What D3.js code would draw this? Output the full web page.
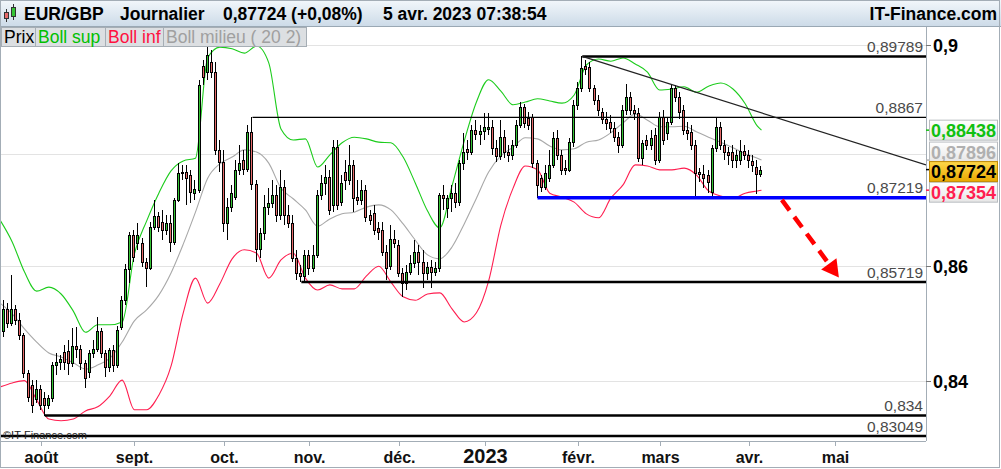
<!DOCTYPE html>
<html><head><meta charset="utf-8">
<script src="https://cdnjs.cloudflare.com/ajax/libs/d3/7.8.5/d3.min.js"></script>
<style>
html,body{margin:0;padding:0;background:#fff;}
svg{display:block;font-family:"Liberation Sans",Arial,sans-serif;}
</style></head><body>
<svg id="c" width="1001" height="469"></svg>
<script>
// ---------------- DATA ----------------
const firstIndex = -9; // trading-day index of first candle (Aug 1 2022 = 0)
const open = [
0.8486,0.8525,0.8500,0.8525,0.8505,0.8479,0.8413,0.8393,0.8368,0.8386,
0.8370,0.8358,0.8370,0.8427,0.8432,0.8450,0.8451,0.8431,0.8460,0.8455,
0.8431,0.8415,0.8448,0.8455,0.8486,0.8448,0.8424,0.8453,0.8427,0.8493,
0.8540,0.8595,0.8655,0.8641,0.8641,0.8607,0.8597,0.8670,0.8689,0.8679,
0.8664,0.8677,0.8643,0.8718,0.8766,0.8768,0.8763,0.8730,0.8736,0.8961,
0.8950,0.8969,0.8950,0.8808,0.8786,0.8677,0.8705,0.8723,0.8772,0.8790,
0.8774,0.8841,0.8747,0.8630,0.8659,0.8705,0.8712,0.8727,0.8691,0.8741,
0.8691,0.8677,0.8615,0.8588,0.8583,0.8620,0.8597,0.8620,0.8727,0.8748,
0.8759,0.8709,0.8813,0.8714,0.8768,0.8754,0.8781,0.8723,0.8718,0.8736,
0.8691,0.8695,0.8668,0.8664,0.8625,0.8600,0.8648,0.8638,0.8588,0.8570,
0.8590,0.8606,0.8625,0.8607,0.8588,0.8599,0.8590,0.8597,0.8727,0.8704,
0.8721,0.8730,0.8714,0.8784,0.8810,0.8804,0.8844,0.8837,0.8842,0.8846,
0.8850,0.8812,0.8797,0.8831,0.8804,0.8799,0.8817,0.8853,0.8886,0.8866,
0.8868,0.8784,0.8757,0.8741,0.8757,0.8781,0.8830,0.8799,0.8775,0.8772,
0.8822,0.8890,0.8921,0.8961,0.8959,0.8921,0.8899,0.8877,0.8864,0.8859,
0.8848,0.8831,0.8817,0.8881,0.8904,0.8881,0.8875,0.8793,0.8826,0.8817,
0.8835,0.8790,0.8868,0.8839,0.8859,0.8921,0.8904,0.8881,0.8844,0.8841,
0.8817,0.8768,0.8764,0.8763,0.8732,0.8812,0.8850,0.8817,0.8804,0.8804,
0.8790,0.8790,0.8806,0.8799,0.8788,0.8777,0.8765];
const high = [
0.8540,0.8535,0.8585,0.8532,0.8518,0.8483,0.8419,0.8401,0.8401,0.8393,
0.8381,0.8375,0.8432,0.8448,0.8444,0.8462,0.8470,0.8492,0.8493,0.8462,
0.8436,0.8453,0.8470,0.8511,0.8492,0.8453,0.8457,0.8462,0.8495,0.8548,
0.8604,0.8661,0.8664,0.8677,0.8650,0.8615,0.8679,0.8718,0.8696,0.8700,
0.8691,0.8691,0.8721,0.8784,0.8781,0.8781,0.8772,0.8754,0.8936,0.8972,
0.8996,0.8991,0.8969,0.8826,0.8808,0.8721,0.8745,0.8790,0.8817,0.8808,
0.8853,0.8867,0.8754,0.8668,0.8727,0.8739,0.8754,0.8745,0.8772,0.8754,
0.8709,0.8691,0.8629,0.8602,0.8629,0.8629,0.8638,0.8736,0.8763,0.8781,
0.8772,0.8826,0.8826,0.8763,0.8790,0.8817,0.8790,0.8754,0.8754,0.8745,
0.8700,0.8709,0.8679,0.8679,0.8638,0.8673,0.8664,0.8646,0.8597,0.8602,
0.8620,0.8646,0.8638,0.8629,0.8607,0.8611,0.8607,0.8730,0.8745,0.8727,
0.8745,0.8748,0.8790,0.8839,0.8826,0.8853,0.8862,0.8853,0.8875,0.8875,
0.8862,0.8826,0.8862,0.8844,0.8817,0.8826,0.8862,0.8895,0.8892,0.8877,
0.8873,0.8790,0.8763,0.8781,0.8808,0.8841,0.8844,0.8808,0.8790,0.8830,
0.8899,0.8932,0.89789,0.8972,0.8969,0.8926,0.8908,0.8884,0.8877,0.8871,
0.8859,0.8841,0.8890,0.8928,0.8914,0.8890,0.8884,0.8826,0.8835,0.8844,
0.8848,0.8877,0.8881,0.8866,0.8928,0.8926,0.8914,0.8890,0.8859,0.8853,
0.8826,0.8775,0.8781,0.8772,0.8817,0.8867,0.8859,0.8826,0.8813,0.8817,
0.8808,0.8826,0.8817,0.8808,0.8799,0.8790,0.8779];
const low = [
0.8476,0.8492,0.8495,0.8497,0.8471,0.8405,0.8363,0.8344,0.8362,0.8350,
0.8340,0.8352,0.8363,0.8410,0.8418,0.8418,0.8410,0.8424,0.8439,0.8418,
0.8387,0.8405,0.8439,0.8450,0.8439,0.8406,0.8415,0.8415,0.8422,0.8488,
0.8532,0.8570,0.8607,0.8629,0.8599,0.8563,0.8593,0.8664,0.8661,0.8646,
0.8655,0.8625,0.8638,0.8714,0.8754,0.8709,0.8712,0.8718,0.8730,0.8926,
0.8936,0.8939,0.8799,0.8768,0.8661,0.8646,0.8696,0.8718,0.8763,0.8763,
0.8768,0.8736,0.8607,0.8615,0.8646,0.8691,0.8704,0.8679,0.8682,0.8673,
0.8668,0.8607,0.8575,0.85719,0.8573,0.8585,0.8590,0.8615,0.8718,0.8727,
0.8691,0.8696,0.8700,0.8707,0.8736,0.8745,0.8696,0.8709,0.8709,0.8679,
0.8673,0.8655,0.8646,0.8618,0.8576,0.8593,0.8632,0.8581,0.8546,0.8558,
0.8585,0.8597,0.8585,0.8562,0.8576,0.8562,0.8583,0.8590,0.8700,0.8686,
0.8696,0.8704,0.8707,0.8772,0.8790,0.8799,0.8826,0.8817,0.8826,0.8835,
0.8799,0.8786,0.8790,0.8793,0.8786,0.8790,0.8812,0.8848,0.8848,0.8844,
0.8775,0.87219,0.8732,0.8736,0.8750,0.8775,0.8790,0.8763,0.8763,0.8768,
0.8813,0.8881,0.8914,0.8945,0.8914,0.8890,0.8870,0.8855,0.8844,0.8839,
0.8822,0.8802,0.8812,0.8871,0.8871,0.8862,0.8786,0.8781,0.8808,0.8808,
0.8781,0.8784,0.8817,0.8826,0.8853,0.8895,0.8864,0.8835,0.8826,0.8808,
0.8722,0.8750,0.8739,0.8730,0.8722,0.8804,0.8808,0.8790,0.8781,0.8775,
0.8775,0.8781,0.8790,0.8775,0.8768,0.8728,0.8759];
const close = [
0.8525,0.8500,0.8525,0.8505,0.8479,0.8413,0.8372,0.8358,0.8386,0.8358,
0.8358,0.8370,0.8427,0.8432,0.8438,0.8432,0.8431,0.8460,0.8455,0.8431,
0.8405,0.8448,0.8455,0.8486,0.8448,0.8424,0.8453,0.8427,0.8488,0.8540,
0.8595,0.8655,0.8616,0.8655,0.8607,0.8597,0.8670,0.8689,0.8670,0.8664,
0.8677,0.8643,0.8718,0.8766,0.8768,0.8757,0.8732,0.8738,0.8926,0.8941,
0.8982,0.8950,0.8808,0.8786,0.8677,0.8705,0.8730,0.8772,0.8784,0.8774,
0.8841,0.8747,0.8630,0.8659,0.8705,0.8712,0.8727,0.8691,0.8741,0.8691,
0.8677,0.8615,0.8588,0.8583,0.8620,0.8597,0.8620,0.8727,0.8748,0.8759,
0.8700,0.8813,0.8709,0.8748,0.8754,0.8781,0.8721,0.8718,0.8736,0.8687,
0.8682,0.8664,0.8661,0.8625,0.8597,0.8648,0.8641,0.8588,0.8570,0.8590,
0.8606,0.8625,0.8607,0.8588,0.8599,0.8590,0.8597,0.8727,0.8721,0.8721,
0.8730,0.8714,0.8784,0.8804,0.8804,0.8844,0.8837,0.8842,0.8850,0.8850,
0.8812,0.8797,0.8831,0.8804,0.8799,0.8817,0.8853,0.8886,0.8857,0.8853,
0.8784,0.8745,0.8741,0.8766,0.8781,0.8830,0.8799,0.8772,0.8772,0.8822,
0.8890,0.8921,0.8958,0.8956,0.8921,0.8899,0.8881,0.8864,0.8857,0.8848,
0.8831,0.8817,0.8881,0.8904,0.8881,0.8875,0.8793,0.8821,0.8817,0.8830,
0.8790,0.8868,0.8826,0.8859,0.8921,0.8904,0.8877,0.8844,0.8839,0.8817,
0.8766,0.8764,0.8757,0.8750,0.8812,0.8850,0.8817,0.8804,0.8799,0.8790,
0.8799,0.8806,0.8799,0.8790,0.8781,0.8765,0.87724];

const bandIndex = [-10,-7,-4,-1,2,5,8,11,14,17,20,23,26,29,32,35,38,41,44,47,50,53,56,59,62,65,68,71,74,77,80,83,86,89,92,95,98,101,104,107,110,113,116,119,122,125,128,131,134,137,140,143,146,149,152,155,158,161,164,167,170,173,176,177];
const bollSup = [0.8682,0.8643,0.8590,0.8556,0.8563,0.8551,0.8521,0.8484,0.8497,0.8497,0.8502,0.8622,0.8680,0.8730,0.8770,0.8788,0.8793,0.8976,0.8996,0.8993,0.8985,0.8998,0.8967,0.8846,0.8826,0.8828,0.8777,0.8799,0.8821,0.8831,0.8828,0.8822,0.8821,0.8795,0.8748,0.8698,0.8668,0.8743,0.8824,0.8895,0.8936,0.8915,0.8890,0.8895,0.8901,0.8897,0.8893,0.8908,0.8963,0.8974,0.8970,0.8976,0.8965,0.8950,0.8917,0.8919,0.8923,0.8913,0.8924,0.8930,0.8919,0.8892,0.8851,0.88438];
const bollMid = [0.8535,0.8516,0.8490,0.8467,0.8448,0.8441,0.8431,0.8420,0.8427,0.8439,0.8467,0.8504,0.8523,0.8549,0.8588,0.8639,0.8696,0.8757,0.8783,0.8795,0.8808,0.8804,0.8784,0.8739,0.8720,0.8700,0.8671,0.8684,0.8693,0.8696,0.8705,0.8709,0.8700,0.8675,0.8646,0.8620,0.8613,0.8634,0.8675,0.8721,0.8768,0.8797,0.8813,0.8830,0.8828,0.8815,0.8808,0.8810,0.8822,0.8826,0.8839,0.8857,0.8873,0.8862,0.8850,0.8850,0.8851,0.8841,0.8831,0.8822,0.8812,0.8801,0.8793,0.87896];
const bollInf = [0.8389,0.8396,0.8400,0.8367,0.8334,0.8331,0.8334,0.8348,0.8355,0.8374,0.8401,0.8350,0.8350,0.8375,0.8425,0.8518,0.8579,0.8535,0.8569,0.8613,0.8629,0.8623,0.8579,0.8611,0.8623,0.8579,0.8558,0.8567,0.8560,0.8560,0.8583,0.8600,0.8572,0.8546,0.8540,0.8551,0.8553,0.8525,0.8502,0.8518,0.8574,0.8673,0.8739,0.8779,0.8772,0.8730,0.8723,0.8714,0.8693,0.8686,0.8721,0.8745,0.8781,0.8779,0.8772,0.8772,0.8775,0.8763,0.8734,0.8725,0.8721,0.8730,0.8734,0.87354];

// support / resistance levels and annotation
const levelValues = [0.89789, 0.8867, 0.87219, 0.85719, 0.834, 0.83049];
const levelFrom   = [133, 52, 122, 64, 1, -10];
const trendIndex = [133, 217.4];
const trendValue = [0.89789, 0.8781];
const arrowIndex = [182, 196];
const arrowValue = [0.8718, 0.8580];

// axis
const tickLabels = ['août','sept.','oct.','nov.','déc.','2023','févr.','mars','avr.','mai'];
const tickIndex  = [0,23,45,66,88,109,132,152,174,195];
const gridValues = [0.84,0.86,0.88,0.9];
const axisLabelValues = [0.84,0.86,0.9];

// last values boxes
const boxValues = [0.88438, 0.87896, 0.87724, 0.87354];

const headerParts = ['EUR/GBP','Journalier','0,87724 (+0,08%)','5 avr. 2023 07:38:54'];
const legendItems = ['Prix','Boll sup','Boll inf','Boll milieu ( 20 2)'];

// ---------------- DRAW ----------------
const svg = d3.select('#c');
const PL=1, PT=27, PR=926, PB=441;
const x = d3.scaleLinear().domain([-10, 217.4]).range([0, 926]);
const y = d3.scaleLog().domain([0.82965, 0.90333]).range([PB, PT]);
const fmt = v => String(v).replace('.', ',');

const defs = svg.append('defs');
const hg = defs.append('linearGradient').attr('id','hdr').attr('x1',0).attr('y1',0).attr('x2',0).attr('y2',1);
hg.append('stop').attr('offset','0%').attr('stop-color','#f2f7fb');
hg.append('stop').attr('offset','100%').attr('stop-color','#cddbe8');
const gg = defs.append('linearGradient').attr('id','gold').attr('x1',0).attr('y1',0).attr('x2',0).attr('y2',1);
gg.append('stop').attr('offset','0%').attr('stop-color','#ffd84a');
gg.append('stop').attr('offset','100%').attr('stop-color','#e8a800');
const bg = defs.append('linearGradient').attr('id','boxg').attr('x1',0).attr('y1',0).attr('x2',0).attr('y2',1);
bg.append('stop').attr('offset','0%').attr('stop-color','#ffffff');
bg.append('stop').attr('offset','100%').attr('stop-color','#e6e6e6');
defs.append('clipPath').attr('id','clip').append('rect')
  .attr('x',PL).attr('y',PT).attr('width',PR-PL).attr('height',PB-PT);

svg.append('rect').attr('width',1001).attr('height',469).attr('fill','#fff');

// grid
svg.append('g').selectAll('line').data(gridValues).join('line')
  .attr('x1',PL).attr('x2',PR).attr('y1',d=>Math.round(y(d))+0.5).attr('y2',d=>Math.round(y(d))+0.5)
  .attr('stroke','#e3e3e3').attr('stroke-width',1);

const plot = svg.append('g').attr('clip-path','url(#clip)');

// bands
const bandLine = vals => d3.line().curve(d3.curveMonotoneX)
  .x((d,k)=>x(bandIndex[k])).y(d=>y(d))(vals);
[[bollMid,'#a8a8a8'],[bollSup,'#1ccc1c'],[bollInf,'#ff1e50']].forEach(([vals,col])=>{
  plot.append('path').attr('d',bandLine(vals)).attr('fill','none').attr('stroke',col).attr('stroke-width',1.1);
});

// candles
const candles = open.map((o,k)=>({i:firstIndex+k,o,h:high[k],l:low[k],c:close[k]}));
const cg = plot.append('g').attr('shape-rendering','crispEdges');
candles.forEach(d=>{
  const px = Math.round(x(d.i));
  cg.append('line').attr('x1',px-0.5).attr('x2',px-0.5)
    .attr('y1',y(d.h)).attr('y2',y(d.l)).attr('stroke','#000').attr('stroke-width',1);
  const top = Math.round(y(Math.max(d.o,d.c))), bot = Math.round(y(Math.min(d.o,d.c)));
  cg.append('rect').attr('x',px-1.5).attr('y',top+0.5).attr('width',2).attr('height',Math.max(1,bot-top))
    .attr('fill', d.c>=d.o ? '#35c435' : '#e66a6a').attr('stroke','#000').attr('stroke-width',1);
});

// levels
const levelColor = ['#000','#000','#0000ff','#000','#000','#000'];
const levelWidth = [2.5,1.3,3.5,2.5,2.5,2.5];
levelValues.forEach((v,k)=>{
  plot.append('line').attr('x1',x(levelFrom[k])).attr('x2',PR)
    .attr('y1',y(v)).attr('y2',y(v)).attr('stroke',levelColor[k]).attr('stroke-width',levelWidth[k]);
});
// trend
plot.append('line').attr('x1',x(trendIndex[0])).attr('y1',y(trendValue[0]))
  .attr('x2',x(trendIndex[1])).attr('y2',y(trendValue[1])).attr('stroke','#222').attr('stroke-width',1.2);

// level labels
svg.append('g').selectAll('text').data(levelValues).join('text')
  .attr('x',PR-3).attr('y',d=>y(d)-4.5).attr('text-anchor','end')
  .attr('font-size',15.5).attr('fill','#4a4a4a').text(d=>fmt(d));

// red dashed arrow
{
  const x0=x(arrowIndex[0]), y0=y(arrowValue[0]), x1=x(arrowIndex[1]), y1=y(arrowValue[1]);
  const ang=Math.atan2(y1-y0,x1-x0), L=17, Wd=9.5;
  const bx=x1-L*Math.cos(ang), by=y1-L*Math.sin(ang);
  svg.append('line').attr('x1',x0).attr('y1',y0).attr('x2',bx).attr('y2',by)
    .attr('stroke','#ff0000').attr('stroke-width',4.5).attr('stroke-dasharray','13,8');
  const nx=-Math.sin(ang), ny=Math.cos(ang);
  svg.append('polygon').attr('points',[[x1,y1],[bx+nx*Wd,by+ny*Wd],[bx-nx*Wd,by-ny*Wd]].map(p=>p.join(',')).join(' '))
    .attr('fill','#ff0000');
}

// axes frame
svg.append('line').attr('x1',PR+0.5).attr('x2',PR+0.5).attr('y1',PT).attr('y2',PB).attr('stroke','#a3adb6');
svg.append('line').attr('x1',0).attr('x2',PR).attr('y1',PB+0.5).attr('y2',PB+0.5).attr('stroke','#a3adb6');
// x ticks
const xt = svg.append('g');
tickIndex.forEach((t,k)=>{
  const px=Math.round(x(t))+0.5;
  xt.append('line').attr('x1',px).attr('x2',px).attr('y1',PB).attr('y2',PB+5).attr('stroke','#a3adb6');
  xt.append('text').attr('x',px).attr('y',463).attr('text-anchor','middle')
    .attr('font-weight','bold').attr('font-size', tickLabels[k]==='2023'?20:16).attr('fill','#111').text(tickLabels[k]);
});
// y ticks
const yt = svg.append('g');
axisLabelValues.forEach(v=>{
  const py=Math.round(y(v))+0.5;
  yt.append('line').attr('x1',PR).attr('x2',PR+5).attr('y1',py).attr('y2',py).attr('stroke','#777');
  yt.append('text').attr('x',933).attr('y',py).attr('dy','0.36em').attr('font-weight','bold')
    .attr('font-size',18).attr('fill','#000').text(fmt(v));
});

// value boxes
const boxText = ['#10c010','#b0b0b0','#000','#ff1e50'];
const boxTick = ['#10c010','#b0b0b0','#000','#ff1e50'];
const boxNudge = [0,-8,2,2];
[0,1,3,2].forEach(k=>{
  const v=boxValues[k], cy=y(v)+boxNudge[k];
  svg.append('line').attr('x1',PR).attr('x2',PR+5).attr('y1',y(v)).attr('y2',y(v)).attr('stroke',boxTick[k]).attr('stroke-width',1.5);
  svg.append('rect').attr('x',929.5).attr('y',cy-10).attr('width',68).attr('height',20)
    .attr('fill', k===2?'url(#gold)':'url(#boxg)').attr('stroke', k===2?'#c08a00':'#b8bcc0');
  svg.append('text').attr('x',963.5).attr('y',cy).attr('dy','0.36em').attr('text-anchor','middle')
    .attr('font-weight','bold').attr('font-size',18).attr('fill',boxText[k]).text(v.toFixed(5).replace('.',','));
});

// header
svg.append('rect').attr('x',0).attr('y',0).attr('width',1001).attr('height',26).attr('fill','url(#hdr)');
svg.append('line').attr('x1',0).attr('x2',1001).attr('y1',26.5).attr('y2',26.5).attr('stroke','#9aa8b4');
// icon
const ic = svg.append('g').attr('shape-rendering','crispEdges');
ic.append('line').attr('x1',6.5).attr('x2',6.5).attr('y1',9).attr('y2',22).attr('stroke','#333');
ic.append('rect').attr('x',4.5).attr('y',12.5).attr('width',4).attr('height',6).attr('fill','#e66a6a').attr('stroke','#333');
ic.append('line').attr('x1',13.5).attr('x2',13.5).attr('y1',4).attr('y2',20).attr('stroke','#333');
ic.append('rect').attr('x',11.5).attr('y',7.5).attr('width',4).attr('height',9).attr('fill','#35c435').attr('stroke','#333');
const hx = [24,120,223,383];
headerParts.forEach((t,k)=>{
  svg.append('text').attr('x',hx[k]).attr('y',20).attr('font-weight','bold').attr('font-size',17.5).attr('fill','#000').text(t);
});
svg.append('text').attr('x',997).attr('y',20).attr('text-anchor','end').attr('font-weight','bold')
  .attr('font-size',17.5).attr('fill','#000').text('IT-Finance.com');

// legend
const lx = [1,35,105,163,306];
const lc = ['#000','#00c000','#ff1040','#a0a0a0'];
legendItems.forEach((t,k)=>{
  svg.append('rect').attr('x',lx[k]+0.5).attr('y',27.5).attr('width',lx[k+1]-lx[k]).attr('height',19)
    .attr('fill','#dcdfe2').attr('stroke','#a6aeb5');
  svg.append('text').attr('x',lx[k]+3).attr('y',43).attr('font-size',17.5).attr('fill',lc[k]).text(t);
});

// copyright
svg.append('text').attr('x',3).attr('y',439).attr('font-size',11).attr('fill','#222').text('©IT-Finance.com');

// outer frame
svg.append('rect').attr('x',0.5).attr('y',0.5).attr('width',999).attr('height',467)
  .attr('fill','none').attr('stroke','#a3adb6');
</script>
</body></html>
